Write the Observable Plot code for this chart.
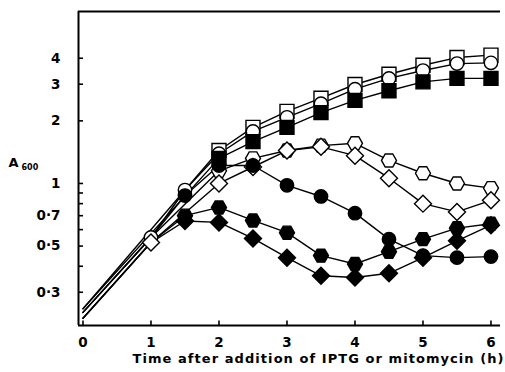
<!DOCTYPE html>
<html><head><meta charset="utf-8">
<script src="https://cdn.jsdelivr.net/npm/d3@7"></script>
<script src="https://cdn.jsdelivr.net/npm/@observablehq/plot@0.6"></script>
<style>body{margin:0;background:#fff} svg{display:block}</style>
</head><body><div id="chart"></div>
<script>
// ---- data ----
const hours = [0, 1, 1.5, 2, 2.5, 3, 3.5, 4, 4.5, 5, 5.5, 6];
const openSquare   = [0.25, null, null, 1.44, 1.86, 2.22, 2.57, 2.99, 3.35, 3.70, 4.03, 4.14];
const openCircle   = [0.24, 0.55, 0.93, 1.39, 1.78, 2.08, 2.42, 2.84, 3.20, 3.49, 3.77, 3.80];
const filledSquare = [0.25, null, null, 1.32, 1.59, 1.86, 2.19, 2.51, 2.79, 3.08, 3.20, 3.20];
const openHexagon  = [0.24, 0.55, null, 1.15, 1.32, 1.44, 1.52, 1.56, 1.29, 1.12, 1.00, 0.95];
const openDiamond  = [0.225, 0.52, null, 1.00, 1.20, 1.44, 1.50, 1.36, 1.06, 0.80, 0.73, 0.83];
const filledCircle = [0.24, 0.55, 0.875, 1.22, 1.22, 0.98, 0.866, 0.72, 0.54, 0.45, 0.44, 0.445];
const filledHexagon= [0.225, 0.52, 0.70, 0.767, 0.664, 0.58, 0.45, 0.41, 0.47, 0.54, 0.61, 0.64];
const filledDiamond= [0.225, 0.52, 0.66, 0.65, 0.544, 0.44, 0.36, 0.353, 0.37, 0.44, 0.53, 0.63];

const xTicks = [0, 1, 2, 3, 4, 5, 6];
const xTickLabels = ["0", "1", "2", "3", "4", "5", "6"];
const yTicks = [0.3, 0.5, 0.7, 1, 2, 3, 4];
const yTickLabels = ["0·3", "0·5", "0·7", "1", "2", "3", "4"];
const yMinorTicks = [0.4, 0.6, 0.8, 0.9];
const xTitle = "Time after addition of IPTG or mitomycin (h)";
const yTitle = "A";
const yTitleSub = "600";

// ---- symbols ----
const rr = s => Math.sqrt(s / Math.PI);
const symSquare = {draw(c, s){const r = rr(s); c.moveTo(-r,-r); c.lineTo(r,-r); c.lineTo(r,r); c.lineTo(-r,r); c.closePath();}};
const symDiamond = {draw(c, s){const r = rr(s); c.moveTo(0,-r); c.lineTo(r,0); c.lineTo(0,r); c.lineTo(-r,0); c.closePath();}};
const symHexagon = {draw(c, s){const r = rr(s), h = r*0.87; c.moveTo(-r,0); c.lineTo(-r/2,-h); c.lineTo(r/2,-h); c.lineTo(r,0); c.lineTo(r/2,h); c.lineTo(-r/2,h); c.closePath();}};
const symHTick = {draw(c, s){const r = rr(s); c.moveTo(0,0); c.lineTo(r,0);}};
const symVTick = {draw(c, s){const r = rr(s); c.moveTo(0,0); c.lineTo(0,-r);}};

const series = [
  {name:"openSquare",   values:openSquare,   symbol:symSquare,  fill:"white", r:7,   from:1.5},
  {name:"openCircle",   values:openCircle,   symbol:"circle",   fill:"white", r:6.7, from:1},
  {name:"filledSquare", values:filledSquare, symbol:symSquare,  fill:"black", r:7,   from:1.5},
  {name:"openHexagon",  values:openHexagon,  symbol:symHexagon, fill:"white", r:7.5, from:1.5},
  {name:"openDiamond",  values:openDiamond,  symbol:symDiamond, fill:"white", r:8.5, from:1},
  {name:"filledCircle", values:filledCircle, symbol:"circle",   fill:"black", r:6.7, from:1.5},
  {name:"filledHexagon",values:filledHexagon,symbol:symHexagon, fill:"black", r:7.5, from:1.5},
  {name:"filledDiamond",values:filledDiamond,symbol:symDiamond, fill:"black", r:8.5, from:1.5}
];
const rows = series.flatMap(s => hours.map((t, i) => ({series:s.name, t, v:s.values[i]})).filter(d => d.v != null));

const X0 = -0.066, X1 = 6.14, Y0 = 0.2076, Y1 = 6.71;
const font = "DejaVu Sans";

const marks = [
  Plot.line(rows, {x:"t", y:"v", z:"series", stroke:"black", strokeWidth:1.4}),
  ...series.map(s => Plot.dot(rows.filter(d => d.series === s.name && d.t >= s.from),
    {x:"t", y:"v", symbol:s.symbol, r:s.r, fill:s.fill, stroke:"black", strokeWidth:1.4})),
  Plot.ruleX([X0], {stroke:"black", strokeWidth:2}),
  Plot.ruleY([Y0], {stroke:"black", strokeWidth:2}),
  Plot.ruleY([Y1], {stroke:"black", strokeWidth:2}),
  Plot.dot(xTicks, {x:d => d, frameAnchor:"bottom", symbol:symVTick, r:5, stroke:"black", fill:"none", strokeWidth:1.6}),
  Plot.dot(yTicks.concat(yMinorTicks), {y:d => d, frameAnchor:"left", symbol:symHTick, r:4.5, stroke:"black", fill:"none", strokeWidth:1.6}),
  Plot.text(xTicks, {x:d => d, frameAnchor:"bottom", dy:17, text:(d, i) => xTickLabels[i], fontSize:13.5, fontWeight:"bold", fill:"black", lineAnchor:"middle"}),
  Plot.text(yTicks, {y:d => d, frameAnchor:"left", dx:-18, textAnchor:"end", text:(d, i) => yTickLabels[i], fontSize:13.5, fontWeight:"bold", fill:"black", lineAnchor:"middle"}),
  Plot.text([xTitle], {frameAnchor:"bottom", dx:28.5, dy:33, text:d => d, fontSize:13, fontWeight:"bold", fill:"black", lineAnchor:"middle"}),
  Plot.text([yTitle], {frameAnchor:"left", dx:-70, dy:-6, text:d => d, fontSize:13, fontWeight:"bold", fill:"black", lineAnchor:"middle"}),
  Plot.text([yTitleSub], {frameAnchor:"left", dx:-57, dy:-1, text:d => d, fontSize:8, fontWeight:"bold", fill:"black", lineAnchor:"middle"})
];

const chart = Plot.plot({
  width:505, height:372,
  marginLeft:78, marginRight:5, marginTop:11, marginBottom:47,
  x:{domain:[X0, X1], axis:null},
  y:{type:"log", domain:[Y0, Y1], axis:null},
  style:{fontFamily:font, background:"white", overflow:"visible"},
  marks
});
// stretch the x-axis title to the width it has in the figure
d3.select(chart).selectAll("text").filter(function() { return this.textContent === xTitle; })
  .attr("textLength", 371).attr("lengthAdjust", "spacing");
document.getElementById("chart").appendChild(chart);
</script>
</body></html>
